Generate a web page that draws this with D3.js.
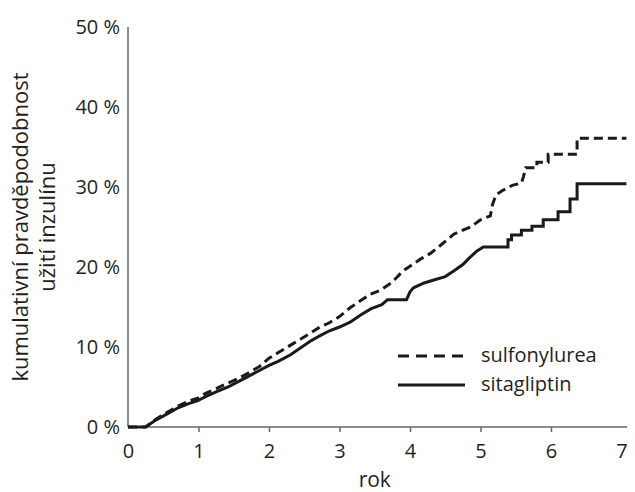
<!DOCTYPE html>
<html>
<head>
<meta charset="utf-8">
<script src="https://cdn.jsdelivr.net/npm/d3@7"></script>
<style>
  body { margin: 0; background: #fff; }
  svg { display: block; font-family: "Open Sans", sans-serif; }
</style>
</head>
<body>
<svg id="main-svg" width="635" height="492"></svg>
<script>
// tick labels
const xTicks = [0, 1, 2, 3, 4, 5, 6, 7];
const yTicks = [0, 10, 20, 30, 40, 50];

// series names
const seriesNames = ["sulfonylurea", "sitagliptin"];

// [year, percent], step corners written out where visible
const sulfonylurea = [
    [0, 0], [0.25, 0], [0.4, 1.0], [0.55, 1.8], [0.71, 2.6], [0.85, 3.2],
    [0.99, 3.6], [1.1, 4.2], [1.25, 4.8], [1.42, 5.5], [1.55, 6.0], [1.7, 6.7],
    [1.87, 7.6], [2.0, 8.6], [2.15, 9.4], [2.3, 10.2], [2.45, 11.0], [2.6, 11.8],
    [2.72, 12.5], [2.85, 13.0], [3.0, 13.8], [3.15, 14.9], [3.3, 15.8], [3.44, 16.6],
    [3.58, 17.1], [3.7, 17.8], [3.79, 18.5], [3.9, 19.5], [4.05, 20.4], [4.15, 21.0],
    [4.29, 21.7], [4.39, 22.4], [4.5, 23.2], [4.62, 24.1], [4.75, 24.6], [4.86, 25.0],
    [5.0, 25.9], [5.14, 26.4], [5.17, 27.8], [5.22, 29.0], [5.3, 29.5], [5.45, 30.2],
    [5.58, 30.5], [5.61, 31.3], [5.64, 32.4], [5.8, 32.4], [5.8, 33.1], [5.96, 33.1],
    [5.96, 34.1], [6.37, 34.1], [6.37, 36.1], [7.07, 36.1]
];

const sitagliptin = [
    [0, 0], [0.25, 0], [0.4, 0.9], [0.55, 1.6], [0.71, 2.4], [0.85, 2.9],
    [0.99, 3.3], [1.1, 3.8], [1.25, 4.4], [1.42, 5.0], [1.55, 5.6], [1.7, 6.3],
    [1.85, 7.0], [2.0, 7.7], [2.13, 8.2], [2.3, 9.0], [2.45, 9.9], [2.6, 10.8],
    [2.72, 11.4], [2.85, 12.0], [3.0, 12.5], [3.15, 13.1], [3.3, 14.0], [3.45, 14.8],
    [3.6, 15.3], [3.68, 15.9], [3.95, 15.9], [4.0, 16.9], [4.05, 17.4], [4.2, 18.0],
    [4.35, 18.4], [4.5, 18.8], [4.62, 19.5], [4.75, 20.3], [4.85, 21.2], [4.95, 22.0],
    [5.04, 22.5], [5.39, 22.5], [5.39, 23.4], [5.44, 23.4], [5.44, 24.0], [5.58, 24.0],
    [5.58, 24.6], [5.73, 24.6], [5.73, 25.1], [5.89, 25.1], [5.89, 25.9], [6.1, 25.9],
    [6.1, 26.9], [6.27, 26.9], [6.27, 28.5], [6.37, 28.5], [6.37, 30.4], [7.07, 30.4]
];

const svg = d3.select("#main-svg");

// scales
const x = d3.scaleLinear().domain([0, 7]).range([128, 621.5]);
const y = d3.scaleLinear().domain([0, 50]).range([427, 27]);

const axisColor = "#666";
const textColor = "#231f20";

// x axis
const xAxis = svg.append("g")
    .attr("transform", `translate(0,${y(0)})`)
    .call(d3.axisBottom(x).tickValues(xTicks).tickSize(5).tickPadding(12).tickFormat(d3.format("d")));
xAxis.select(".domain").remove();
xAxis.selectAll(".tick line").attr("stroke", axisColor).attr("stroke-width", 1.5)
    .filter(d => d === 0 || d === 7).remove();
xAxis.selectAll(".tick text").attr("fill", textColor).attr("font-size", "20px")
    .attr("font-family", "'Open Sans', sans-serif");
svg.append("line")
    .attr("x1", x(0)).attr("x2", x(7.08))
    .attr("y1", y(0)).attr("y2", y(0))
    .attr("stroke", axisColor).attr("stroke-width", 1.5);

// y axis
const yAxis = svg.append("g")
    .attr("transform", `translate(${x(0)},0)`)
    .call(d3.axisLeft(y).tickValues(yTicks).tickSize(0).tickPadding(8).tickFormat(d => d + " %"));
yAxis.select(".domain").remove();
yAxis.selectAll(".tick text").attr("fill", textColor).attr("font-size", "20px")
    .attr("font-family", "'Open Sans', sans-serif");
svg.append("line")
    .attr("x1", x(0)).attr("x2", x(0))
    .attr("y1", y(0)).attr("y2", y(50))
    .attr("stroke", axisColor).attr("stroke-width", 1.5);

// axis titles
svg.append("text")
    .attr("x", (x(0) + x(7)) / 2)
    .attr("y", 487)
    .attr("text-anchor", "middle")
    .attr("font-size", "21px")
    .attr("fill", textColor)
    .text("rok");

const yTitle = svg.append("text")
    .attr("transform", `translate(28,${y(25)}) rotate(-90)`)
    .attr("text-anchor", "middle")
    .attr("font-size", "22px")
    .attr("fill", textColor);
yTitle.append("tspan").attr("x", 0).attr("dy", 0).text("kumulativní pravděpodobnost");
yTitle.append("tspan").attr("x", 0).attr("dy", 27).text("užití inzulínu");

// lines
const line = d3.line()
    .x(d => x(d[0]))
    .y(d => y(d[1]));

svg.append("path")
    .datum(sulfonylurea)
    .attr("d", line)
    .attr("fill", "none")
    .attr("stroke", "#1a1a1a")
    .attr("stroke-width", 3)
    .attr("stroke-dasharray", "9,5");

svg.append("path")
    .datum(sitagliptin)
    .attr("d", line)
    .attr("fill", "none")
    .attr("stroke", "#1a1a1a")
    .attr("stroke-width", 3);

// legend
const legend = svg.append("g").attr("transform", "translate(398,356)");
const legendRows = legend.selectAll("g")
    .data(seriesNames)
    .enter().append("g")
    .attr("transform", (d, i) => `translate(0,${i * 29})`);
legendRows.append("line")
    .attr("x1", 0).attr("x2", 67)
    .attr("stroke", "#1a1a1a")
    .attr("stroke-width", 3)
    .attr("stroke-dasharray", (d, i) => i === 0 ? "11,7" : null);
legendRows.append("text")
    .attr("x", 83)
    .attr("y", 6)
    .attr("font-size", "20px")
    .attr("fill", textColor)
    .text(d => d);
</script>
</body>
</html>
